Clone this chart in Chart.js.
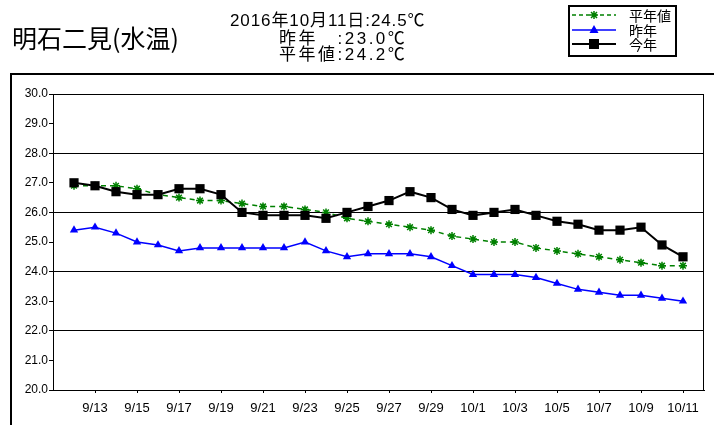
<!DOCTYPE html>
<html>
<head>
<meta charset="utf-8">
<script src="https://cdn.jsdelivr.net/npm/chart.js"></script>
<style>
  body { margin: 0; background: #fff; }
  #wrap { position: relative; width: 714px; height: 425px; overflow: hidden; }
  #chart { position: absolute; left: 0; top: 0; }
  .txt { position: absolute; white-space: pre; color: #000;
         font-family: "Liberation Sans", "Noto Sans CJK JP", sans-serif; }
  #title { left: 12px; top: 25px; font-size: 25px; line-height: 25px;
           font-family: "Noto Sans CJK JP", sans-serif; }
  .info { font-size: 17px; line-height: 17px; }
  #frame { position: absolute; left: 10px; top: 73px; width: 800px; height: 500px;
           border: 2px solid #000; }
</style>
</head>
<body>
<div id="wrap">
  <div id="frame"></div>
  <canvas id="chart" width="714" height="425"></canvas>
  <div id="title" class="txt">明石二見(水温)</div>
  <div class="txt info" style="left:230px;top:12px;letter-spacing:0.9px">2016年10月11日:24.5℃</div>
  <div class="txt info" style="left:279px;top:30px;letter-spacing:2.5px">昨年　:23.0℃</div>
  <div class="txt info" style="left:279px;top:46px;letter-spacing:2.5px">平年値:24.2℃</div>
</div>
<script>
// daily water temperature, 9/12 .. 10/11
const dates = [
  "9/12", "9/13", "9/14", "9/15", "9/16", "9/17", "9/18", "9/19", "9/20", "9/21",
  "9/22", "9/23", "9/24", "9/25", "9/26", "9/27", "9/28", "9/29", "9/30", "10/1",
  "10/2", "10/3", "10/4", "10/5", "10/6", "10/7", "10/8", "10/9", "10/10", "10/11"
];
const thisYear = [
  27.0, 26.9, 26.7, 26.6, 26.6, 26.8, 26.8, 26.6, 26.0, 25.9,
  25.9, 25.9, 25.8, 26.0, 26.2, 26.4, 26.7, 26.5, 26.1, 25.9,
  26.0, 26.1, 25.9, 25.7, 25.6, 25.4, 25.4, 25.5, 24.9, 24.5
];
const lastYear = [
  25.4, 25.5, 25.3, 25.0, 24.9, 24.7, 24.8, 24.8, 24.8, 24.8,
  24.8, 25.0, 24.7, 24.5, 24.6, 24.6, 24.6, 24.5, 24.2, 23.9,
  23.9, 23.9, 23.8, 23.6, 23.4, 23.3, 23.2, 23.2, 23.1, 23.0
];
const normalYear = [
  26.9, 26.9, 26.9, 26.8, 26.6, 26.5, 26.4, 26.4, 26.3, 26.2,
  26.2, 26.1, 26.0, 25.8, 25.7, 25.6, 25.5, 25.4, 25.2, 25.1,
  25.0, 25.0, 24.8, 24.7, 24.6, 24.5, 24.4, 24.3, 24.2, 24.2
];
const legendNames = ["平年値", "昨年", "今年"];

const toPoints = (arr) => arr.map((v, i) => ({ x: i, y: v }));

// frame around the plot + legend box in the top right corner
const framePlugin = {
  id: "framePlugin",
  afterDraw(chart) {
    const ctx = chart.ctx;
    const a = chart.chartArea;
    ctx.save();
    ctx.strokeStyle = "#000";
    ctx.lineWidth = 1;
    ctx.strokeRect(a.left + 0.5, a.top + 0.5, a.right - a.left - 1, a.bottom - a.top);

    // legend
    ctx.lineWidth = 2;
    ctx.strokeRect(569, 6, 107, 50);
    const rows = [
      { y: 15, color: "#008000", dash: [4, 3], width: 1.5, mark: "star" },
      { y: 30, color: "#0000ff", dash: [], width: 1.5, mark: "triangle" },
      { y: 44, color: "#000", dash: [], width: 2, mark: "rect" }
    ];
    rows.forEach((r, i) => {
      ctx.setLineDash(r.dash);
      ctx.strokeStyle = r.color;
      ctx.lineWidth = r.width;
      ctx.beginPath();
      ctx.moveTo(572, r.y);
      ctx.lineTo(616, r.y);
      ctx.stroke();
      ctx.setLineDash([]);
      ctx.fillStyle = r.color;
      const cx = 594, cy = r.y;
      if (r.mark === "rect") {
        ctx.fillRect(cx - 5, cy - 5, 10, 10);
      } else if (r.mark === "triangle") {
        ctx.beginPath();
        ctx.moveTo(cx, cy - 5);
        ctx.lineTo(cx + 4.5, cy + 3);
        ctx.lineTo(cx - 4.5, cy + 3);
        ctx.closePath();
        ctx.fill();
      } else {
        ctx.lineWidth = 1.5;
        ctx.beginPath();
        ctx.moveTo(cx - 4, cy); ctx.lineTo(cx + 4, cy);
        ctx.moveTo(cx, cy - 4); ctx.lineTo(cx, cy + 4);
        ctx.moveTo(cx - 3, cy - 3); ctx.lineTo(cx + 3, cy + 3);
        ctx.moveTo(cx - 3, cy + 3); ctx.lineTo(cx + 3, cy - 3);
        ctx.stroke();
      }
      ctx.fillStyle = "#000";
      ctx.font = "14px 'Noto Sans CJK JP', sans-serif";
      ctx.textBaseline = "middle";
      ctx.fillText(legendNames[i], 629, r.y + 1);
    });
    ctx.restore();
  }
};

const ctx = document.getElementById("chart").getContext("2d");

new Chart(ctx, {
  type: "line",
  data: {
    datasets: [
      {
        label: legendNames[2],
        data: toPoints(thisYear),
        borderColor: "#000",
        backgroundColor: "#000",
        borderWidth: 2,
        pointStyle: "rect",
        pointRadius: 6.5,
        pointBorderWidth: 0,
        tension: 0
      },
      {
        label: legendNames[1],
        data: toPoints(lastYear),
        borderColor: "#0000ff",
        backgroundColor: "#0000ff",
        borderWidth: 1.5,
        pointStyle: "triangle",
        pointRadius: 4.8,
        pointBorderWidth: 0,
        tension: 0
      },
      {
        label: legendNames[0],
        data: toPoints(normalYear),
        borderColor: "#008000",
        backgroundColor: "#008000",
        borderWidth: 1.5,
        borderDash: [5, 4],
        pointStyle: "star",
        pointRadius: 4,
        pointBorderWidth: 1.5,
        tension: 0
      }
    ]
  },
  options: {
    responsive: false,
    animation: false,
    layout: { padding: { top: 94, right: 10, bottom: 0, left: 0 } },
    plugins: {
      legend: { display: false },
      tooltip: { enabled: false }
    },
    scales: {
      x: {
        type: "linear",
        min: -1,
        max: 30,
        afterBuildTicks(scale) {
          const t = [];
          for (let i = 1; i < dates.length; i += 2) t.push({ value: i });
          scale.ticks = t;
        },
        afterFit(scale) { scale.height = 35; },
        ticks: {
          autoSkip: false,
          maxRotation: 0,
          padding: 8,
          color: "#000",
          font: { family: "'Liberation Sans', sans-serif", size: 13 },
          callback: (v) => dates[v]
        },
        grid: { drawOnChartArea: false, tickLength: 3, tickColor: "#000" },
        border: { color: "#000", width: 1 }
      },
      y: {
        min: 20,
        max: 30,
        afterFit(scale) { scale.width = 53; },
        ticks: {
          stepSize: 0.5,
          padding: 1,
          color: "#000",
          font: { family: "'Liberation Sans', sans-serif", size: 12 },
          callback: (v) => (v % 1 === 0 ? v.toFixed(1) : "")
        },
        grid: {
          color: (c) => (c.tick && c.tick.value % 2 === 0 ? "#000" : "rgba(0,0,0,0)"),
          tickColor: "#000",
          tickLength: 4
        },
        border: { color: "#000", width: 1 }
      }
    }
  },
  plugins: [framePlugin]
});
</script>
</body>
</html>
